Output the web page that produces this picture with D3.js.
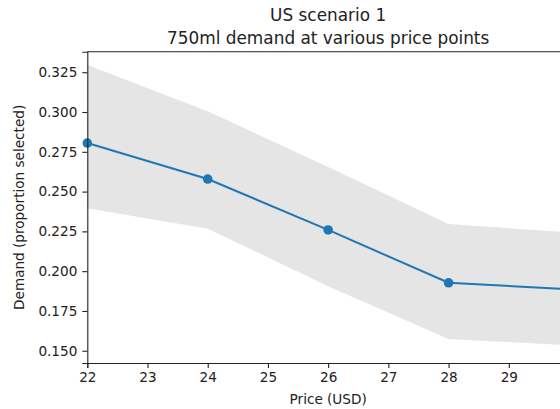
<!DOCTYPE html>
<html>
<head>
<meta charset="utf-8">
<script src="https://cdn.jsdelivr.net/npm/d3@7"></script>
<style>
  body { margin: 0; background: #fff; }
  svg { display: block; font-family: "DejaVu Sans", sans-serif; }
</style>
</head>
<body>
<div id="chart"></div>
<script>
// values
const prices = [22, 24, 26, 28, 30];
const demand = [0.2805, 0.2579, 0.2259, 0.1927, 0.1887];
const upper = [0.3296, 0.3005, 0.2655, 0.2297, 0.2243];
const lower = [0.2396, 0.2267, 0.1906, 0.1574, 0.1534];
const xTicks = [22, 23, 24, 25, 26, 27, 28, 29];
const yTicks = [0.150, 0.175, 0.200, 0.225, 0.250, 0.275, 0.300, 0.325];

const width = 560;
const height = 409;
// plot area runs past the right edge, as in the cropped original
const margin = { left: 87.3, right: 569, top: 51.7, bottom: 363 };

const data = prices.map((p, i) => ({ p, v: demand[i], hi: upper[i], lo: lower[i] }));

const svg = d3.select("#chart")
    .append("svg")
    .attr("width", width)
    .attr("height", height);

const x = d3.scaleLinear().domain([22, 30]).range([margin.left, margin.right]);
const y = d3.scaleLinear().domain([0.1423, 0.3379]).range([margin.bottom, margin.top]);

// confidence band
svg.append("path")
    .datum(data)
    .attr("fill", "#e5e5e5")
    .attr("d", d3.area()
        .x(d => x(d.p))
        .y0(d => y(d.lo))
        .y1(d => y(d.hi)));

// line
svg.append("path")
    .datum(data)
    .attr("fill", "none")
    .attr("stroke", "#1f77b4")
    .attr("stroke-width", 2)
    .attr("d", d3.line().x(d => x(d.p)).y(d => y(d.v)));

svg.selectAll("circle")
    .data(data)
    .enter()
    .append("circle")
    .attr("cx", d => x(d.p))
    .attr("cy", d => y(d.v))
    .attr("r", 4.8)
    .attr("fill", "#1f77b4");

// axes
const xAxis = svg.append("g")
    .attr("transform", `translate(0,${margin.bottom})`)
    .call(d3.axisBottom(x).tickValues(xTicks).tickFormat(d3.format("d")).tickSizeOuter(0).tickSize(5).tickPadding(4));

const yAxis = svg.append("g")
    .attr("transform", `translate(${margin.left},0)`)
    .call(d3.axisLeft(y).tickValues(yTicks).tickFormat(d3.format(".3f")).tickSizeOuter(0).tickSize(5).tickPadding(5));

[xAxis, yAxis].forEach(g => {
    g.select(".domain").attr("stroke", "#222").attr("stroke-width", 1.1);
    g.selectAll(".tick line").attr("stroke", "#222").attr("stroke-width", 1.1);
    g.selectAll(".tick text")
        .attr("fill", "#222")
        .style("font-size", "13.6px")
        .style("font-family", "DejaVu Sans, sans-serif");
});

// top spine
svg.append("line")
    .attr("x1", margin.left).attr("x2", margin.right)
    .attr("y1", margin.top).attr("y2", margin.top)
    .attr("stroke", "#222").attr("stroke-width", 1.1);

// labels
svg.append("text")
    .attr("x", (margin.left + margin.right) / 2)
    .attr("y", 404)
    .attr("text-anchor", "middle")
    .attr("fill", "#222")
    .style("font-size", "13.6px")
    .text("Price (USD)");

svg.append("text")
    .attr("transform", `translate(24,${(margin.top + margin.bottom) / 2}) rotate(-90)`)
    .attr("text-anchor", "middle")
    .attr("fill", "#222")
    .style("font-size", "13.6px")
    .text("Demand (proportion selected)");

const titleLines = ["US scenario 1", "750ml demand at various price points"];
svg.selectAll(".title")
    .data(titleLines)
    .enter()
    .append("text")
    .attr("class", "title")
    .attr("x", (margin.left + margin.right) / 2)
    .attr("y", (d, i) => 21 + i * 23)
    .attr("text-anchor", "middle")
    .attr("fill", "#222")
    .style("font-size", "16.9px")
    .text(d => d);
</script>
</body>
</html>
